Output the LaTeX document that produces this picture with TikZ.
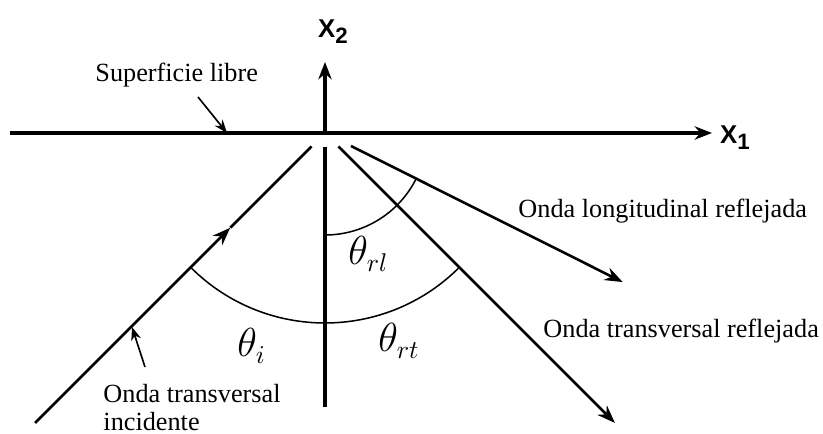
\documentclass[tikz,border=0pt]{standalone}
\usepackage{fontspec}
\setmainfont{Liberation Serif}
\newfontfamily\axisfont{Liberation Sans}
\usetikzlibrary{arrows.meta,positioning}

\begin{document}
\begin{tikzpicture}[x=1.5mm,y=1.5mm,
  axis/.style={line width=1.3pt,-{Stealth[length=2.6mm,width=2mm]}},
  ray/.style={line width=1.1pt},
  rayarr/.style={line width=1.1pt,-{Stealth[length=2.7mm,width=2mm]}},
  angarc/.style={line width=0.65pt},
  pointer/.style={line width=0.7pt,-{Stealth[length=2mm,width=1.5mm]}},
  lbl/.style={font=\fontsize{11.2}{12}\selectfont,inner sep=0pt,anchor=base west},
  axlbl/.style={font=\axisfont\bfseries\fontsize{11}{13}\selectfont,inner sep=0pt},
  ang/.style={font=\fontsize{16}{18}\selectfont,inner sep=0pt,anchor=base west}
]
\useasboundingbox (-32.5,-30.1) rectangle (49.8,13.3);
% ejes
\coordinate (O) at (0,0);
\coordinate (x1a) at (-31.5,0);
\coordinate (x1b) at (38.7,0);
\coordinate (x2b) at (0,7.1);
\draw[axis] (x1a) -- (x1b);
\draw[axis] (O) -- (x2b);
\node[axlbl] (x1) at (41.0,-0.45) {X\raisebox{-0.45ex}{\fontsize{9.5}{11}\selectfont 1}};
\node[axlbl] (x2) at (0.8,10.1) {X\raisebox{-0.45ex}{\fontsize{9.5}{11}\selectfont 2}};
\coordinate (n0) at (0,-1.4);
\coordinate (n1) at (0,-27.4);
\draw[line width=1.3pt] (n0) -- (n1);
% ondas
\coordinate (inc0) at (225:41);
\coordinate (incm) at (225:13.4);
\coordinate (inc1) at (225:1.9);
\draw[rayarr] (inc0) -- (incm);
\draw[ray] (incm) -- (inc1);
\coordinate (rl0) at (-26.6:2.9);
\coordinate (rl1) at (-26.6:33.3);
\draw[rayarr] (rl0) -- (rl1);
\coordinate (rt0) at (-45:1.9);
\coordinate (rt1) at (-45:41);
\draw[rayarr] (rt0) -- (rt1);
% angulos
\draw[angarc] (-90:10.2) arc[start angle=-90,end angle=-26.6,radius=10.2];
\draw[angarc] (-135:19) arc[start angle=-135,end angle=-45,radius=19];
\node[ang] (ti) at (-8.8,-22.4) {$\theta_i$};
\node[ang] (trl) at (2.3,-13.2) {$\theta_{rl}$};
\node[ang] (trt) at (5.3,-21.9) {$\theta_{rt}$};
% textos
\node[lbl] (sup) at (-23.0,5.1) {Superficie libre};
\coordinate (sup0) at (-12.7,3.6);
\coordinate (sup1) at (-9.8,0);
\draw[pointer] (sup0) -- (sup1);
\node[lbl] (rl) at (19.3,-8.5) {Onda longitudinal reflejada};
\node[lbl] (rt) at (21.8,-20.5) {Onda transversal reflejada};
\node[lbl,anchor=north west,align=left] (inc) at (-22.2,-25.1) {Onda transversal\\incidente};
\coordinate (inc2) at (-18,-23.4);
\coordinate (inc3) at (-19.3,-19.4);
\draw[pointer] (inc2) -- (inc3);
\end{tikzpicture}
\end{document}
